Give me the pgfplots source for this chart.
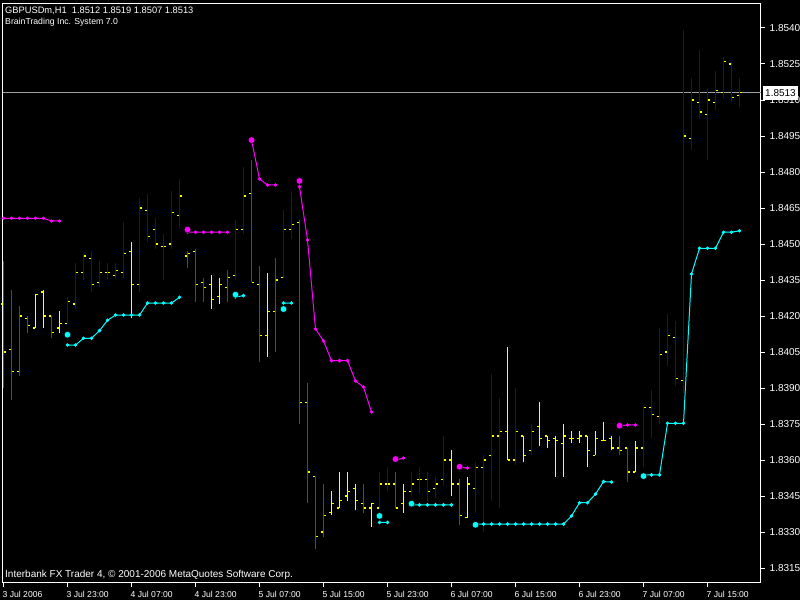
\documentclass[border=0pt]{standalone}
\usepackage{fontspec}
\setmainfont{Liberation Sans}
\usepackage{pgfplots}
\usepackage{pgfplotstable}
\pgfplotsset{compat=1.18}

\definecolor{barblue}{RGB}{0,0,255}
\definecolor{barred}{RGB}{255,0,0}
\definecolor{baryellow}{RGB}{255,255,0}
\definecolor{resmag}{RGB}{255,0,255}
\definecolor{supcyan}{RGB}{0,255,255}
\definecolor{bidline}{RGB}{160,160,160}

% open tick left of the bar, close tick right of it
\pgfdeclareplotmark{otick}{%
  \pgfpathmoveto{\pgfqpoint{-2.6pt}{0pt}}%
  \pgfpathlineto{\pgfqpoint{-0.5pt}{0pt}}%
  \pgfusepathqstroke}
\pgfdeclareplotmark{ctick}{%
  \pgfpathmoveto{\pgfqpoint{0.5pt}{0pt}}%
  \pgfpathlineto{\pgfqpoint{2.6pt}{0pt}}%
  \pgfusepathqstroke}
\pgfdeclareplotmark{nothing}{}

\pgfplotsset{
  % vertical high-low line drawn upward from the low by (high - low)
  hilo/.style={only marks, forget plot, scatter, mark=nothing,
    visualization depends on={\thisrow{h}-\thisrow{l} \as \hl},
    scatter/@pre marker code/.code={%
      \draw[#1, line width=1.6pt] (0pt,0pt) -- (axis direction cs:0,\hl);},
    scatter/@post marker code/.code={}},
  optick/.style={only marks, mark=otick, baryellow, mark options={line width=1.2pt}, forget plot},
  cltick/.style={only marks, mark=ctick, baryellow, mark options={line width=1.2pt}, forget plot},
}

% GBPUSD H1 bars, split by bar colour: index, open, high, low, close
\pgfplotstableread{
i o h l c
8 1.8417 1.8428 1.8417 1.8426
9 1.8425 1.8442 1.8423 1.8438
10 1.8438 1.8446 1.8435 1.8445
11 1.8444 1.8447 1.8430 1.8433
12 1.8434 1.8443 1.8432 1.8438
13 1.8438 1.8442 1.8435 1.8438
14 1.8437 1.8442 1.8436 1.8439
15 1.8438 1.8459 1.8436 1.8446
17 1.8433 1.8469 1.8430 1.8465
18 1.8464 1.8471 1.8451 1.8453
19 1.8456 1.8461 1.8448 1.8450
20 1.8449 1.8454 1.8435 1.8449
21 1.8450 1.8472 1.8448 1.8463
22 1.8462 1.8477 1.8457 1.8470
29 1.8437 1.8460 1.8435 1.8456
30 1.8456 1.8482 1.8454 1.8470
35 1.8436 1.8464 1.8436 1.8456
36 1.8456 1.8472 1.8452 1.8458
47 1.8340 1.8355 1.8340 1.8350
48 1.8350 1.8357 1.8347 1.8350
51 1.8347 1.8355 1.8345 1.8350
52 1.8352 1.8357 1.8346 1.8352
53 1.8352 1.8355 1.8343 1.8347
54 1.8348 1.8353 1.8344 1.8350
55 1.8352 1.8370 1.8349 1.8360
59 1.8348 1.8359 1.8338 1.8357
60 1.8357 1.8362 1.8330 1.8360
61 1.8362 1.8396 1.8343 1.8370
62 1.8370 1.8386 1.8340 1.8372
64 1.8360 1.8390 1.8358 1.8372
66 1.8364 1.8375 1.8362 1.8372
80 1.8365 1.8383 1.8357 1.8382
81 1.8382 1.8389 1.8369 1.8379
82 1.8378 1.8415 1.8375 1.8404
83 1.8405 1.8421 1.8399 1.8412
84 1.8411 1.8418 1.8391 1.8394
85 1.8393 1.8539 1.8388 1.8495
86 1.8494 1.8519 1.8489 1.8510
87 1.8509 1.8531 1.8502 1.8505
88 1.8504 1.8515 1.8485 1.8510
89 1.8509 1.8522 1.8506 1.8514
90 1.8513 1.8528 1.8511 1.8526
91 1.8525 1.8526 1.8509 1.8511
92 1.8512 1.8519 1.8507 1.8513
}\bluebars

\pgfplotstableread{
i o h l c
0 1.8425 1.8443 1.8390 1.8405
1 1.8406 1.8431 1.8385 1.8397
2 1.8397 1.8424 1.8395 1.8420
3 1.8419 1.8420 1.8413 1.8416
6 1.8420 1.8420 1.8411 1.8413
23 1.8445 1.8447 1.8440 1.8446
24 1.8447 1.8448 1.8426 1.8433
25 1.8434 1.8436 1.8426 1.8432
28 1.8432 1.8439 1.8426 1.8436
31 1.8471 1.8485 1.8434 1.8434
32 1.8433 1.8441 1.8401 1.8412
34 1.8422 1.8444 1.8405 1.8435
37 1.8459 1.8460 1.8375 1.8384
38 1.8384 1.8392 1.8342 1.8355
39 1.8353 1.8353 1.8323 1.8328
40 1.8330 1.8350 1.8328 1.8337
45 1.8342 1.8350 1.8338 1.8340
49 1.8350 1.8355 1.8340 1.8340
57 1.8350 1.8352 1.8333 1.8337
77 1.8365 1.8370 1.8362 1.8364
78 1.8365 1.8365 1.8351 1.8355
}\redbars

\pgfplotstableread{
i o h l c
4 1.8415 1.8429 1.8415 1.8429
5 1.8430 1.8431 1.8415 1.8420
7 1.8415 1.8422 1.8413 1.8417
16 1.8447 1.8451 1.8419 1.8433
26 1.8433 1.8437 1.8423 1.8427
27 1.8428 1.8436 1.8425 1.8433
33 1.8412 1.8438 1.8403 1.8422
41 1.8338 1.8347 1.8337 1.8342
42 1.8340 1.8355 1.8340 1.8343
43 1.8345 1.8355 1.8343 1.8347
44 1.8348 1.8350 1.8339 1.8343
46 1.8340 1.8342 1.8332 1.8342
50 1.8342 1.8350 1.8338 1.8347
56 1.8360 1.8364 1.8345 1.8350
58 1.8336 1.8353 1.8336 1.8350
63 1.8372 1.8407 1.8360 1.8360
65 1.8370 1.8370 1.8359 1.8362
67 1.8374 1.8384 1.8366 1.8369
68 1.8370 1.8370 1.8365 1.8368
69 1.8369 1.8370 1.8353 1.8368
70 1.8367 1.8375 1.8353 1.8370
71 1.8369 1.8372 1.8367 1.8369
72 1.8369 1.8372 1.8367 1.8370
73 1.8370 1.8370 1.8357 1.8364
74 1.8362 1.8372 1.8362 1.8369
75 1.8368 1.8376 1.8368 1.8368
76 1.8369 1.8370 1.8364 1.8365
79 1.8355 1.8368 1.8355 1.8365
}\yellowbars

% resistance line (magenta)
\pgfplotstableread{
i v
0 1.84607
1 1.84607
2 1.84607
3 1.84607
4 1.84607
5 1.84607
6 1.84596
7 1.84596
8 nan
23 1.84549
24 1.84549
25 1.84549
26 1.84549
27 1.84549
28 1.84549
29 nan
31 1.84933
32 1.84771
33 1.84746
34 1.84746
35 nan
37 1.84739
38 1.84517
39 1.84146
40 1.84096
41 1.84014
42 1.84014
43 1.84014
44 1.83929
45 1.83904
46 1.83800
47 nan
49 1.83600
50 1.83608
51 nan
57 1.83569
58 1.83567
59 nan
77 1.83742
78 1.83746
79 1.83746
}\resline

% support line (cyan)
\pgfplotstableread{
i v
8 1.84079
9 1.84079
10 1.84107
11 1.84107
12 1.84139
13 1.84182
14 1.84204
15 1.84204
16 1.84204
17 1.84204
18 1.84254
19 1.84254
20 1.84254
21 1.84254
22 1.84278
23 nan
29 1.84279
30 1.84285
31 nan
35 1.84254
36 1.84254
37 nan
47 1.83340
48 1.83340
49 nan
51 1.83413
52 1.83413
53 1.83413
54 1.83413
55 1.83413
56 1.83413
57 nan
59 1.83333
60 1.83333
61 1.83333
62 1.83333
63 1.83333
64 1.83333
65 1.83333
66 1.83333
67 1.83333
68 1.83333
69 1.83333
70 1.83333
71 1.83367
72 1.83422
73 1.83422
74 1.83458
75 1.83510
76 1.83508
77 nan
80 1.83538
81 1.83538
82 1.83538
83 1.83753
84 1.83753
85 1.83753
86 1.84375
87 1.84482
88 1.84482
89 1.84482
90 1.84549
91 1.84549
92 1.84555
}\supline

% signal dots
\pgfplotstableread{
i v
23 1.84560
31 1.84933
37 1.84763
49 1.83604
57 1.83572
77 1.83743
}\ressig
\pgfplotstableread{
i v
8 1.84122
29 1.84289
35 1.84229
47 1.83367
51 1.83418
59 1.83330
80 1.83533
}\supsig

\begin{document}
\begin{tikzpicture}
\useasboundingbox (0pt,0pt) rectangle (800pt,600pt);
\fill[black] (0pt,0pt) rectangle (800pt,600pt);
\begin{axis}[
  at={(2.5pt,17.5pt)}, anchor=south west,
  scale only axis, width=758pt, height=579pt,
  xmin=-0.125, xmax=94.625, ymin=1.830896, ymax=1.855021,
  axis line style={white, line width=1pt},
  tick align=outside, major tick length=4pt,
  tick style={white, line width=1pt},
  xtick pos=left, ytick pos=right, yticklabel pos=right,
  xtick={0,8,...,88},
  xticklabels={3 Jul 2006,3 Jul 23:00,4 Jul 07:00,4 Jul 23:00,5 Jul 07:00,5 Jul 15:00,5 Jul 23:00,6 Jul 07:00,6 Jul 15:00,6 Jul 23:00,7 Jul 07:00,7 Jul 15:00},
  xticklabel style={white, font=\fontsize{8.6}{10}\selectfont, anchor=north west, inner sep=0pt, yshift=-5pt, xshift=-1pt},
  ytick={1.8315,1.8330,1.8345,1.8360,1.8375,1.8390,1.8405,1.8420,1.8435,1.8450,1.8465,1.8480,1.8495,1.8510,1.8525,1.8540},
  scaled y ticks=false,
  /pgf/number format/assume math mode=true,
  yticklabel style={white, font=\fontsize{10}{12}\selectfont, anchor=west, inner sep=0pt, xshift=5pt,
    /pgf/number format/fixed, /pgf/number format/fixed zerofill, /pgf/number format/precision=4},
  extra y ticks={1.8513},
  extra y tick style={grid=major, major grid style={bidline, line width=1pt}, major tick length=0pt,
    yticklabel style={fill=white, text=black, inner xsep=2.5pt, inner ysep=3.5pt, xshift=-3pt}},
]
% high-low lines
\addplot[hilo=barblue] table[x=i, y=l]{\bluebars};
\addplot[hilo=barred] table[x=i, y=l]{\redbars};
\addplot[hilo=baryellow] table[x=i, y=l]{\yellowbars};
% open / close ticks
\addplot[optick] table[x=i, y=o]{\bluebars};
\addplot[cltick] table[x=i, y=c]{\bluebars};
\addplot[optick] table[x=i, y=o]{\redbars};
\addplot[cltick] table[x=i, y=c]{\redbars};
\addplot[optick] table[x=i, y=o]{\yellowbars};
\addplot[cltick] table[x=i, y=c]{\yellowbars};
% indicator
\addplot[resmag, line width=1pt, unbounded coords=jump, mark=*, mark size=1.2pt,
  mark options={fill=resmag, draw=none}] table[x=i, y=v]{\resline};
\addplot[supcyan, line width=1pt, unbounded coords=jump, mark=*, mark size=1.2pt,
  mark options={fill=supcyan, draw=none}] table[x=i, y=v]{\supline};
\addplot[only marks, mark=*, mark size=3.3pt, mark options={fill=resmag, draw=none}] table[x=i, y=v]{\ressig};
\addplot[only marks, mark=*, mark size=3.3pt, mark options={fill=supcyan, draw=none}] table[x=i, y=v]{\supsig};
\end{axis}
\node[anchor=base west, inner sep=0pt, white, font=\fontsize{9.3}{11}\selectfont] at (5pt,586pt) {GBPUSDm,H1\ \ 1.8512 1.8519 1.8507 1.8513};
\node[anchor=base west, inner sep=0pt, white, font=\fontsize{8.7}{11}\selectfont] at (5pt,575pt) {BrainTrading Inc. System 7.0};
\node[anchor=base west, inner sep=0pt, white, font=\fontsize{10}{12}\selectfont] at (5pt,23pt) {Interbank FX Trader 4, © 2001-2006 MetaQuotes Software Corp.};
\end{tikzpicture}
\end{document}
